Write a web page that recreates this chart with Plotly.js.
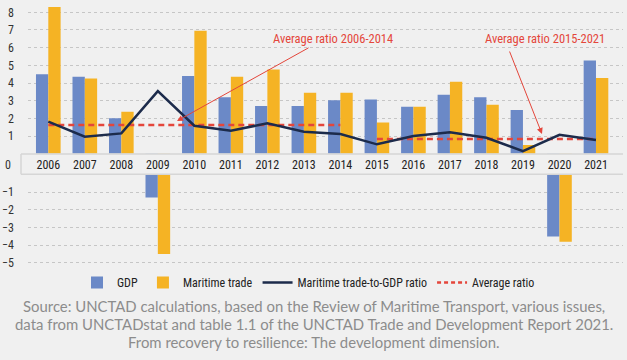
<!DOCTYPE html>
<html>
<head>
<meta charset="utf-8">
<script src="https://cdn.plot.ly/plotly-3.0.1.min.js"></script>
<style>html,body{margin:0;padding:0;background:#f0f0f0;}#chart{width:627px;height:360px;}</style>
</head>
<body>
<div id="chart"></div>
<script>
// ---- data ----
const years = ['2006','2007','2008','2009','2010','2011','2012','2013','2014','2015','2016','2017','2018','2019','2020','2021'];
const gdp = [4.5, 4.35, 2.0, -1.3, 4.4, 3.2, 2.7, 2.7, 3.03, 3.07, 2.66, 3.33, 3.19, 2.47, -3.5, 5.28];
const maritimeTrade = [8.3, 4.26, 2.37, -4.5, 6.95, 4.35, 4.77, 3.45, 3.45, 1.77, 2.66, 4.07, 2.77, 0.49, -3.8, 4.28];
const ratio = [1.81, 0.96, 1.15, 3.54, 1.58, 1.3, 1.72, 1.24, 1.11, 0.53, 1.0, 1.21, 0.9, 0.15, 1.07, 0.77];
const avgPeriod1 = ['2006','2014'];
const avgValue1 = 1.62;
const avgPeriod2 = ['2015','2021'];
const avgValue2 = 0.83;
const posTicks = [1,2,3,4,5,6,7,8];
const negTicks = [-1,-2,-3,-4,-5];
const sourceLines = [
  'Source: UNCTAD calculations, based on the Review of Maritime Transport, various issues,',
  'data from UNCTADstat and table 1.1 of the UNCTAD Trade and Development Report 2021.',
  'From recovery to resilience: The development dimension.'
];

const C_GDP = '#6b89c7', C_MT = '#f5b324', C_LINE = '#1c2b4b', C_RED = '#e4463b';
const FONT = 'Liberation Sans Narrow, Roboto Condensed, DejaVu Sans Condensed, Arial Narrow, sans-serif';

const traces = [];
// bars: same data drawn on both panels (positive part shows in top panel, negative in bottom panel)
['y','y2'].forEach((ya, i) => {
  traces.push({type:'bar', name:'GDP', x: years, y: gdp, yaxis: ya, marker:{color:C_GDP}, showlegend: i===0, legendgroup:'gdp', hoverinfo:'x+y'});
  traces.push({type:'bar', name:'Maritime trade', x: years, y: maritimeTrade, yaxis: ya, marker:{color:C_MT}, showlegend: i===0, legendgroup:'mt', hoverinfo:'x+y'});
});
traces.push({type:'scatter', mode:'lines', name:'Average ratio', x: avgPeriod1, y:[avgValue1, avgValue1], yaxis:'y', line:{color:C_RED, width:2.5, dash:'6px,4px'}, legendgroup:'avg', showlegend:false});
traces.push({type:'scatter', mode:'lines', name:'Average ratio', x: avgPeriod2, y:[avgValue2, avgValue2], yaxis:'y', line:{color:C_RED, width:2.5, dash:'6px,4px'}, legendgroup:'avg', showlegend:false});
traces.push({type:'scatter', mode:'lines', name:'Maritime trade-to-GDP ratio', x: years, y: ratio, yaxis:'y', line:{color:C_LINE, width:2.5}, legendgroup:'ratio'});
// legend entry for average ratio placed last
traces.push({type:'scatter', mode:'lines', name:'Average ratio', x:[null], y:[null], yaxis:'y', line:{color:C_RED, width:2.5, dash:'4px,3px'}, legendgroup:'avg2', hoverinfo:'skip'});

const L = 28, R = 4, T = 4, B = 90;
const W = 627 - L - R, H = 360 - T - B;
const px = v => (v - L) / W;
const py = v => (360 - B - v) / H;

const gridStyle = {showgrid:true, gridcolor:'#c6c6c6', gridwidth:1, griddash:'dot', zeroline:false, showline:false, ticks:'', ticklabelstandoff:13, tickfont:{family:FONT, size:12, color:'#333'}};

const sourceAnn = sourceLines.map((t, i) => ({
  xref:'paper', yref:'paper', x:px(313.5), y:py(306 + 18 * i), xanchor:'center', yanchor:'middle', showarrow:false,
  text:t, font:{family:'Lato, Open Sans, sans-serif', size:14.9, color:'#8c8c8c'}
}));

const layout = {
  width:627, height:360,
  margin:{l:L, r:R, t:T, b:B},
  paper_bgcolor:'#f0f0f0', plot_bgcolor:'#f0f0f0',
  barmode:'group', bargap:0.325, bargroupgap:0,
  font:{family:FONT, color:'#333'},
  xaxis:{type:'category', anchor:'y', range:[-0.556, 15.74], showgrid:false, zeroline:false, showline:false, ticks:'', tickfont:{family:FONT, size:12, color:'#222'}, ticklabelstandoff:2},
  yaxis:Object.assign({domain:[py(153.7), 1], range:[0, 8.47], tickvals:posTicks}, gridStyle),
  yaxis2:Object.assign({domain:[0, py(174.6)], range:[-5.4, 0], tickvals:negTicks, anchor:'x'}, gridStyle),
  showlegend:true,
  legend:{orientation:'h', x:px(308.5), xanchor:'center', y:py(282.5), yanchor:'middle', font:{family:FONT, size:12, color:'#222'}, bgcolor:'rgba(0,0,0,0)', itemwidth:30, traceorder:'normal'},
  shapes:[
    {type:'line', xref:'paper', yref:'paper', x0:px(21), x1:1, y0:py(154), y1:py(154), line:{color:'#d6d6d6', width:1.5}},
    {type:'line', xref:'paper', yref:'paper', x0:px(21), x1:1, y0:py(174.3), y1:py(174.3), line:{color:'#d6d6d6', width:1.5}},
    {type:'line', xref:'paper', yref:'paper', x0:px(21), x1:px(21), y0:py(154), y1:py(174.3), line:{color:'#d6d6d6', width:1.5}}
  ],
  annotations:[
    {xref:'paper', yref:'paper', x:px(13), y:py(165), xanchor:'right', yanchor:'middle', text:'0', showarrow:false, font:{family:FONT, size:12, color:'#333'}},
    {xref:'paper', yref:'paper', x:px(333), y:py(38), xanchor:'center', yanchor:'middle', text:'Average ratio 2006-2014', showarrow:false, font:{family:FONT, size:12.5, color:C_RED}},
    {xref:'paper', yref:'paper', x:px(545), y:py(38), xanchor:'center', yanchor:'middle', text:'Average ratio 2015-2021', showarrow:false, font:{family:FONT, size:12.5, color:C_RED}},
    {xref:'paper', yref:'paper', x:px(177), y:py(121), text:'', showarrow:true, ax:310-177, ay:47-121, axref:'pixel', ayref:'pixel', arrowhead:2, arrowsize:1.2, arrowwidth:1, arrowcolor:C_RED},
    {xref:'paper', yref:'paper', x:px(542), y:py(134), text:'', showarrow:true, ax:509-542, ay:50-134, axref:'pixel', ayref:'pixel', arrowhead:2, arrowsize:1.2, arrowwidth:1, arrowcolor:C_RED}
  ].concat(sourceAnn)
};

Plotly.newPlot('chart', traces, layout, {displayModeBar:false, staticPlot:true});
</script>
</body>
</html>
